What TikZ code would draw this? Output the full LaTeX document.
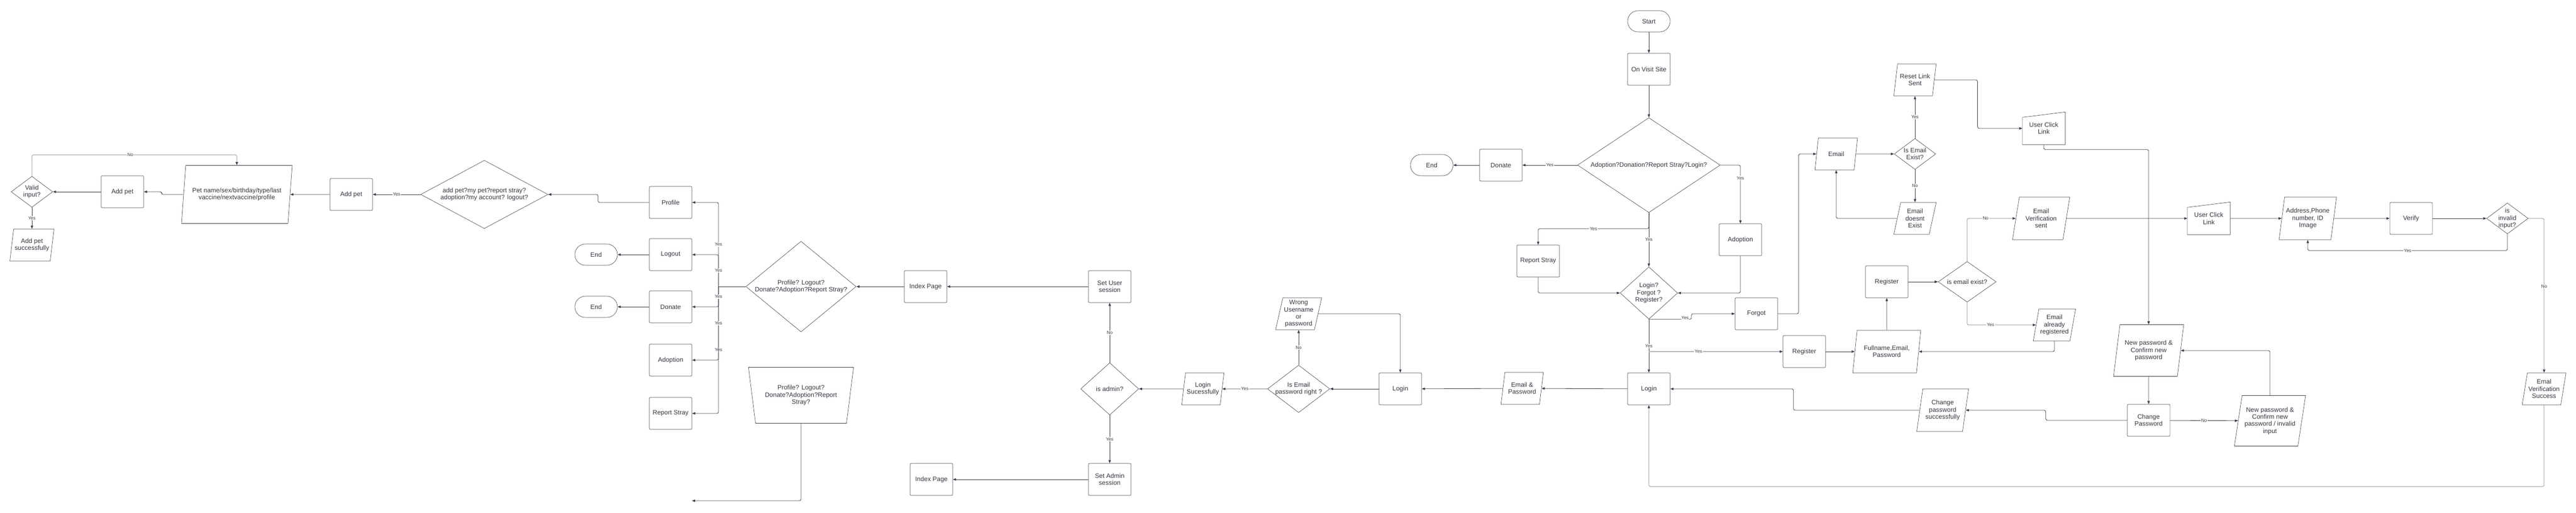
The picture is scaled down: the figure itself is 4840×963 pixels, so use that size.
\documentclass[tikz,border=0pt]{standalone}
\usepackage{fontspec}
\setmainfont{Liberation Sans}
\usetikzlibrary{shapes.geometric,arrows.meta}
\definecolor{dk}{RGB}{58,65,74}
\definecolor{lt}{RGB}{178,181,186}
\definecolor{txt}{RGB}{51,56,64}
\newcommand{\manualin}[1]{\draw[shp] (#1.south west) -- (#1.south east) -- (#1.north east) -- ([yshift=-10pt]#1.north west) -- cycle;}

\begin{document}
\begin{tikzpicture}[x=1pt,y=-1pt,font=\fontsize{12}{13.3}\selectfont,text=txt,
    shp/.style={draw=dk,line width=0.6pt},
    proc/.style={shp,rectangle,rounded corners=2pt,minimum width=80pt,minimum height=60pt,align=center,inner sep=2pt},
    term/.style={shp,rectangle,rounded corners=20pt,minimum width=80pt,minimum height=40pt},
    io/.style={shp,trapezium,trapezium left angle=76,trapezium right angle=104,trapezium stretches=true,minimum width=80pt,minimum height=60pt,align=center,inner sep=2pt},
    dec/.style={shp,diamond,align=center,inner sep=0pt},
    manin/.style={minimum width=80pt,minimum height=61pt,align=center},
    conn/.style={draw=dk,line width=0.8pt,rounded corners=3pt,-{Triangle[length=6pt,width=4.5pt,color=dk]}},
    connlt/.style={conn,draw=lt,line width=1.3pt},
    lbl/.style={fill=white,inner sep=1pt,font=\fontsize{8.5}{10}\selectfont}]
    \path[use as bounding box,fill=white] (0,0) rectangle (4840,963);

    \node[dec,minimum width=78pt,minimum height=58pt,aspect=1.34] (valid) at (60,360) {Valid\\input?};
    \node[io] (addok) at (60,460) {Add pet\\successfully};
    \node[proc] (addpetA) at (230,360) {Add pet};
    \node[io,minimum width=208pt,minimum height=109pt] (petinfo) at (445,365) {Pet name/sex/birthday/type/last\\vaccine/nextvaccine/profile};
    \node[proc] (addpetB) at (660,365) {Add pet};
    \node[dec,minimum width=239pt,minimum height=128pt,aspect=1.87] (petmenu) at (910,365) {add pet?my pet?report stray?\\adoption?my account? logout?};
    \node[term] (endA) at (1120,478) {End};
    \node[term] (endB) at (1120,576) {End};
    \node[proc] (profile) at (1260,380) {Profile};
    \node[proc] (logout) at (1260,478) {Logout};
    \node[proc] (donateB) at (1260,576) {Donate};
    \node[proc] (adoptB) at (1260,676) {Adoption};
    \node[proc] (strayB) at (1260,776) {Report Stray};
    \node[dec,minimum width=207pt,minimum height=170pt,aspect=1.22] (usermenu) at (1505,538) {Profile? Logout?\\Donate?Adoption?Report Stray?};
    \node[shp,trapezium,trapezium left angle=76,trapezium right angle=76,shape border rotate=180,trapezium stretches=true,minimum width=198pt,minimum height=105pt,align=center] (menuin) at (1505,742) {Profile? Logout?\\Donate?Adoption?Report\\Stray?};
    \coordinate (menuend) at (1300,940);
    \node[proc] (indexA) at (1739,538) {Index Page};
    \node[proc] (usersess) at (2085,538) {Set User\\session};
    \node[dec,minimum width=109pt,minimum height=98pt,aspect=1.11] (isadmin) at (2085,730) {is admin?};
    \node[proc] (adminsess) at (2085,900) {Set Admin\\session};
    \node[proc] (indexB) at (1750,900) {Index Page};
    \node[io] (loginok) at (2260,730) {Login\\Sucessfully};
    \node[dec,minimum width=117pt,minimum height=89pt,aspect=1.31,inner xsep=-4pt] (pwright) at (2440,730) {Is Email\\password right ?};
    \node[io] (wrongpw) at (2440,589) {Wrong\\Username\\or\\password};
    \node[proc] (loginL) at (2631,730) {Login};
    \node[io] (emailpw) at (2860,729) {Email \&\\Password};

    \node[term] (start) at (3098,40) {Start};
    \node[proc] (visit) at (3098,130) {On Visit Site};
    \node[dec,minimum width=268pt,minimum height=178pt,aspect=1.5] (mainq) at (3098,310) {Adoption?Donation?Report Stray?Login?};
    \node[proc] (donateA) at (2820,310) {Donate};
    \node[term] (endC) at (2690,310) {End};
    \node[proc] (strayA) at (2890,490) {Report Stray};
    \node[proc] (adoptA) at (3270,450) {Adoption};
    \node[dec,minimum width=108pt,minimum height=98pt,aspect=1.1] (loginq) at (3098,550) {Login?\\Forgot ?\\Register?};
    \node[proc] (forgot) at (3300,589) {Forgot};
    \node[proc] (registerA) at (3390,660) {Register};
    \node[proc] (loginM) at (3098,730) {Login};
    \node[io] (email) at (3450,289) {Email};
    \node[dec,minimum width=78pt,minimum height=58pt,aspect=1.34,inner xsep=-2pt] (emailq) at (3598,289) {Is Email\\Exist?};
    \node[io] (resetsent) at (3598,150) {Reset Link\\Sent};
    \node[io] (nomail) at (3598,410) {Email\\doesnt\\Exist};
    \node[manin] (clickA) at (3840,241) {User Click\\Link};
    \manualin{clickA}
    \node[io,minimum width=128pt,minimum height=80pt] (fullname) at (3545,660) {Fullname,Email,\\Password};
    \node[proc] (registerB) at (3545,529) {Register};
    \node[dec,minimum width=109pt,minimum height=76pt,aspect=1.43] (regq) at (3696,529) {is email exist?};
    \node[io] (already) at (3860,610) {Email\\already\\registered};
    \node[io,minimum width=108pt,minimum height=80pt] (verisent) at (3835,410) {Email\\Verification\\sent};
    \node[manin] (clickB) at (4150,410) {User Click\\Link};
    \manualin{clickB}
    \node[io,minimum width=108pt,minimum height=80pt] (addrinfo) at (4336,410) {Address,Phone\\number, ID\\Image};
    \node[proc] (verify) at (4530,410) {Verify};
    \node[dec,minimum width=78pt,minimum height=58pt,aspect=1.34,inner ysep=-7pt] (invalidq) at (4711,410) {is\\invalid\\input?};
    \node[io] (verisuccess) at (4780,730) {Emal\\Verification\\Success};
    \node[io,minimum width=132pt,minimum height=97pt] (newpw) at (4037,658) {New password \&\\Confirm new\\password};
    \node[proc] (changepw) at (4037,789) {Change\\Password};
    \node[io,minimum width=98pt,minimum height=80pt] (pwsuccess) at (3650,770) {Change\\password\\successfully};
    \node[io,minimum width=134pt,minimum height=95pt] (badpw) at (4265,790) {New password \&\\Confirm new\\password / invalid\\input};

    \draw[conn] (start) -- (visit);
    \draw[conn] (visit) -- (mainq);
    \draw[conn] (mainq.west) -- node[lbl]{Yes} (donateA);
    \draw[conn] (donateA) -- (endC);
    \draw[conn] (mainq.east) -| node[lbl,pos=0.61]{Yes} (adoptA.north);
    \draw[conn] (mainq.south) -- ++(0,30) -| node[lbl,pos=0.25]{Yes} (strayA.north);
    \draw[conn] (mainq.south) -- node[lbl]{Yes} (loginq.north);
    \draw[conn] (strayA.south) |- (loginq.west);
    \draw[conn] (adoptA.south) |- (loginq.east);
    \draw[conn] (loginq.south) -- node[lbl,pos=0.85,yshift=3pt]{Yes} ++(80,0) |- (forgot.west);
    \draw[conn] (loginq.south) -- node[lbl]{Yes} (loginM.north);
    \draw[connlt] (loginq.south |- registerA.west) -- node[lbl,pos=0.37]{Yes} (registerA.west);
    \draw[conn] (forgot.east) -- ++(39,0) |- (email.west);
    \draw[conn] (email) -- (emailq);
    \draw[conn] (emailq) -- node[lbl]{Yes} (resetsent);
    \draw[conn] (emailq) -- node[lbl]{No} (nomail);
    \draw[conn] (nomail.west) -| (email.south);
    \draw[conn] (resetsent.east) -- ++(81,0) |- (clickA.west);
    \draw[conn] (clickA.south) -- ++(0,9) -| (newpw.north);
    \draw[conn] (registerA) -- (fullname);
    \draw[conn] (fullname) -- (registerB);
    \draw[conn] (registerB) -- (regq);
    \draw[connlt] (regq.south) |- node[lbl,pos=0.67]{Yes} (already.west);
    \draw[conn] (already.south) |- (fullname.east);
    \draw[connlt] (regq.north) |- node[lbl,pos=0.69]{No} (verisent.west);
    \draw[conn] (verisent) -- (clickB);
    \draw[conn] (clickB) -- (addrinfo);
    \draw[conn] (addrinfo) -- (verify);
    \draw[conn] (verify) -- (invalidq);
    \draw[conn] (invalidq.south) -- ++(0,31) -| node[lbl,pos=0.25]{Yes} (addrinfo.south);
    \draw[connlt] (invalidq.east) -| node[lbl,pos=0.72]{No} (verisuccess.north);
    \draw[connlt] (verisuccess.south) -- ++(0,153) -| (loginM.south);
    \draw[conn] (changepw) -- node[lbl]{No} (badpw);
    \draw[conn] (badpw.north) |- (newpw.east);
    \draw[conn] (newpw) -- (changepw);
    \draw[conn] (changepw.west) -- ++(-153,0) |- (pwsuccess.east);
    \draw[conn] (pwsuccess.west) -- ++(-237,0) |- (loginM.east);
    \draw[conn] (loginM) -- (emailpw);
    \draw[conn] (emailpw) -- (loginL);
    \draw[conn] (wrongpw.east) -| (loginL.north);
    \draw[conn] (loginL) -- (pwright);
    \draw[conn] (pwright) -- node[lbl]{No} (wrongpw);
    \draw[conn] (pwright) -- node[lbl]{Yes} (loginok);
    \draw[conn] (loginok) -- (isadmin);
    \draw[conn] (isadmin) -- node[lbl]{No} (usersess);
    \draw[conn] (isadmin) -- node[lbl]{Yes} (adminsess);
    \draw[conn] (usersess) -- (indexA);
    \draw[conn] (adminsess) -- (indexB);
    \draw[conn] (indexA) -- (usermenu);
    \coordinate (bus) at (1350,538);
    \draw[conn,-] (usermenu.west) -- (bus);
    \foreach \n in {profile,logout,strayB,adoptB,donateB}
        \draw[conn] (bus) |- node[lbl,pos=0.25]{Yes} (\n.east);
    \draw[conn] ([yshift=-53pt]menuin.center) |- (menuend);
    \draw[conn] (profile.west) -- ++(-96,0) |- (petmenu.east);
    \draw[conn] (logout) -- (endA);
    \draw[conn] (donateB) -- (endB);
    \draw[conn] (petmenu) -- node[lbl]{Yes} (addpetB);
    \draw[conn] (addpetB) -- (petinfo);
    \draw[conn] (petinfo.west) -- ++(-41,0) |- (addpetA.east);
    \draw[conn] (addpetA) -- (valid);
    \draw[connlt] (valid.north) -- ++(0,-40) -| node[lbl,pos=0.24]{No} (petinfo.north);
    \draw[conn] (valid) -- node[lbl]{Yes} (addok);
\end{tikzpicture}
\end{document}
